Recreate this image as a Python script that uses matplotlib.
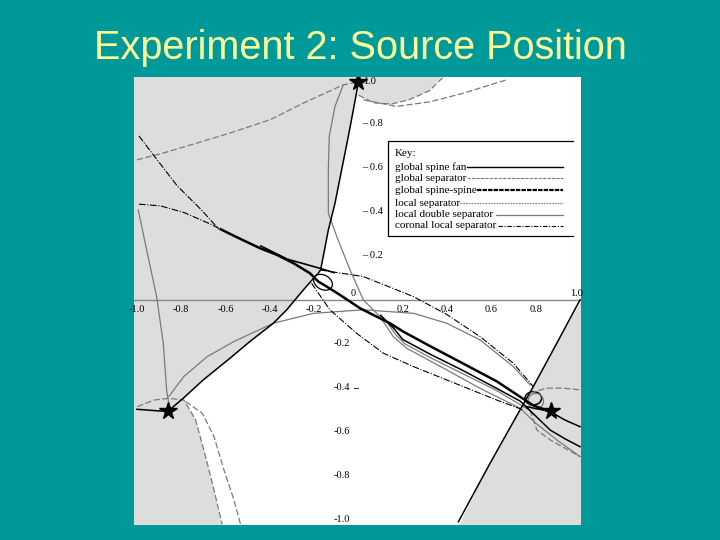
import matplotlib.pyplot as plt
from matplotlib.patches import Ellipse

# ---- data (plot units -1..1) ----
# grey shaded regions
grey_left_x = [-1.02, 0.0, 0.0, -0.023, -0.046, -0.076, -0.106, -0.136, -0.159, -0.171, -0.182,
               -0.189, -0.249, -0.324, -0.384, -0.49, -0.58, -0.701, -0.791,
               -0.788, -0.735, -0.69, -0.652, -0.615, -1.02]
grey_left_y = [1.02, 1.02, 0.99, 0.864, 0.742, 0.591, 0.439, 0.318, 0.197, 0.136, 0.121,
               0.114, 0.045, -0.045, -0.106, -0.189, -0.265, -0.364, -0.447,
               -0.455, -0.545, -0.712, -0.864, -1.03, -1.03]
grey_right_x = [1.01, 0.895, 0.789, 0.729, 0.594, 0.451, 1.01]
grey_right_y = [0.0, -0.197, -0.394, -0.5, -0.742, -1.03, -1.03]
grey_cap_x = [0.0, 0.0, 0.07, 0.15, 0.23, 0.32, 0.38]
grey_cap_y = [1.02, 0.93, 0.895, 0.89, 0.91, 0.95, 1.02]

# global spine fan (black solid)
fan_top_x = [0.0, -0.023, -0.046, -0.076, -0.106, -0.136, -0.159, -0.171, -0.182]
fan_top_y = [0.99, 0.864, 0.742, 0.591, 0.439, 0.318, 0.197, 0.136, 0.121]
fan_bl_x = [-0.189, -0.249, -0.324, -0.384, -0.49, -0.58, -0.701, -0.791, -0.859, -0.893, -1.0]
fan_bl_y = [0.114, 0.045, -0.045, -0.106, -0.189, -0.265, -0.364, -0.447, -0.505, -0.505, -0.497]
fan_br_x = [1.0, 0.895, 0.789, 0.729, 0.594, 0.451]
fan_br_y = [0.0, -0.197, -0.394, -0.5, -0.742, -1.008]
fan_star_x = [0.759, 0.865, 0.93, 1.0]
fan_star_y = [-0.485, -0.507, -0.545, -0.576]
fan_low_x = [0.1, 0.16, 0.2, 0.32, 0.47, 0.62, 0.73, 0.865, 0.93, 1.0]
fan_low_y = [-0.07, -0.13, -0.18, -0.245, -0.32, -0.4, -0.46, -0.591, -0.63, -0.667]

# global spine-spine (thick black)
ss_x = [-0.622, -0.562, -0.445, -0.369, -0.294, -0.219, -0.181, -0.144, -0.084, 0.007, 0.082,
        0.142, 0.202, 0.323, 0.474, 0.624, 0.729, 0.79, 0.865]
ss_y = [0.321, 0.291, 0.235, 0.205, 0.167, 0.121, 0.083, 0.061, 0.023, -0.038, -0.076,
        -0.106, -0.144, -0.21, -0.29, -0.37, -0.44, -0.48, -0.507]
ss2_x = [-0.441, -0.381, -0.321, -0.186, -0.111]
ss2_y = [0.245, 0.215, 0.185, 0.147, 0.124]

# global separator (grey dashed)
gsep_top_x = [-1.0, -0.881, -0.731, -0.58, -0.4, -0.249, -0.069, 0.0]
gsep_top_y = [0.636, 0.667, 0.712, 0.758, 0.818, 0.894, 0.977, 0.99]
gsep_cap_x = [0.0, 0.07, 0.15, 0.23, 0.32, 0.38]
gsep_cap_y = [0.93, 0.895, 0.89, 0.91, 0.95, 1.01]
gsep_cap2_x = [0.022, 0.172, 0.323, 0.473, 0.669]
gsep_cap2_y = [0.909, 0.879, 0.9, 0.939, 1.0]
gsep_bl1_x = [-0.998, -0.923, -0.856, -0.788, -0.735, -0.69, -0.652, -0.615]
gsep_bl1_y = [-0.485, -0.455, -0.447, -0.455, -0.545, -0.712, -0.864, -1.02]
gsep_bl2_x = [-0.78, -0.705, -0.652, -0.607, -0.562, -0.532]
gsep_bl2_y = [-0.462, -0.515, -0.621, -0.773, -0.909, -1.02]
gsep_br1_x = [0.774, 0.849, 0.924, 1.0]
gsep_br1_y = [-0.424, -0.401, -0.401, -0.409]
gsep_br2_x = [0.774, 0.805, 0.865, 1.0]
gsep_br2_y = [-0.5, -0.591, -0.636, -0.712]

# local double separator (grey solid)
lds_left_x = [-0.994, -0.956, -0.911, -0.881, -0.866, -0.854]
lds_left_y = [0.409, 0.227, 0.015, -0.197, -0.409, -0.485]
lds_mid_x = [-0.856, -0.788, -0.683, -0.562, -0.384, -0.203, 0.022, 0.248, 0.398, 0.549, 0.699, 0.774]
lds_mid_y = [-0.439, -0.348, -0.258, -0.189, -0.106, -0.061, -0.045, -0.061, -0.106, -0.182, -0.303, -0.386]
lds_top_x = [-0.069, -0.106, -0.132, -0.136, -0.136, -0.098, -0.038, 0.022, 0.097, 0.157, 0.218,
             0.398, 0.549, 0.729, 0.8, 0.9, 1.0]
lds_top_y = [0.977, 0.879, 0.742, 0.591, 0.394, 0.288, 0.136, 0.0, -0.076, -0.167, -0.22,
             -0.318, -0.402, -0.492, -0.56, -0.64, -0.712]
lds_bun_x = [0.12, 0.17, 0.21, 0.32, 0.47, 0.62, 0.72, 0.77]
lds_bun_y = [-0.09, -0.16, -0.2, -0.26, -0.335, -0.41, -0.47, -0.5]

# coronal local separator (black dash-dot)
cls_a_x = [-0.991, -0.923, -0.818, -0.712, -0.63]
cls_a_y = [0.745, 0.655, 0.518, 0.412, 0.321]
cls_b_x = [-0.991, -0.893, -0.788, -0.667, -0.622]
cls_b_y = [0.435, 0.427, 0.397, 0.344, 0.321]
cls_r_x = [-0.174, 0.022, 0.248, 0.398, 0.549, 0.699, 0.789]
cls_r_y = [0.136, 0.106, 0.015, -0.066, -0.167, -0.288, -0.394]
cls_low_x = [-0.212, -0.129, -0.008, 0.112, 0.248, 0.473, 0.624, 0.744]
cls_low_y = [0.076, -0.045, -0.152, -0.242, -0.303, -0.394, -0.455, -0.5]

# small loops (centre x, centre y)
loop_x = [-0.16, 0.789, 0.80]
loop_y = [0.08, -0.447, -0.46]

# null points (stars)
star_x = [0.0, -0.859, 0.868]
star_y = [0.99, -0.505, -0.505]

xticks = [-1.0, -0.8, -0.6, -0.4, -0.2, 0.2, 0.4, 0.6, 0.8]
xtick_labels = ["-1.0", "-0.8", "-0.6", "-0.4", "-0.2", "0.2", "0.4", "0.6", "0.8"]
ypos_ticks = [0.8, 0.6, 0.4, 0.2]
yneg_ticks = [-0.2, -0.4, -0.6, -0.8, -1.0]

key_names = ["global spine fan", "global separator", "global spine-spine",
             "local separator", "local double separator", "coronal local separator"]
key_y = [0.603, 0.552, 0.497, 0.439, 0.386, 0.336]
key_line_start = [0.49, 0.49, 0.535, 0.46, 0.62, 0.63]

# ---- figure ----
teal = "#009999"
fig = plt.figure(figsize=(7.2, 5.4), dpi=100, facecolor=teal)
fig.text(0.5, 0.912, "Experiment 2: Source Position", ha="center", va="center",
         fontsize=28.5, color="#FFFF99", family="Liberation Sans")

ax = fig.add_axes([0.186, 0.0278, 0.621, 0.83])
ax.set_facecolor("white")
ax.set_xlim(-1.0135, 1.0045)
ax.set_ylim(-1.0227, 1.0136)
ax.set_xticks([])
ax.set_yticks([])
for s in ax.spines.values():
    s.set_visible(False)

shade = "#DDDDDD"
ax.fill(grey_left_x, grey_left_y, color=shade, lw=0)
ax.fill(grey_right_x, grey_right_y, color=shade, lw=0)
ax.fill(grey_cap_x, grey_cap_y, color=shade, lw=0)

grey = "#7A7A7A"
# x axis
ax.plot([-1.02, 1.0], [0, 0], color="#888888", lw=1.0)

# global separator
for xs, ys in [(gsep_top_x, gsep_top_y), (gsep_cap_x, gsep_cap_y), (gsep_cap2_x, gsep_cap2_y),
               (gsep_bl1_x, gsep_bl1_y), (gsep_bl2_x, gsep_bl2_y),
               (gsep_br1_x, gsep_br1_y), (gsep_br2_x, gsep_br2_y)]:
    ax.plot(xs, ys, color=grey, lw=0.9, ls=(0, (5, 2)))
# local double separator
for xs, ys in [(lds_left_x, lds_left_y), (lds_mid_x, lds_mid_y),
               (lds_top_x, lds_top_y), (lds_bun_x, lds_bun_y)]:
    ax.plot(xs, ys, color=grey, lw=0.9)
# coronal local separator
for xs, ys in [(cls_a_x, cls_a_y), (cls_b_x, cls_b_y), (cls_r_x, cls_r_y), (cls_low_x, cls_low_y)]:
    ax.plot(xs, ys, color="black", lw=0.8, ls=(0, (6, 1.5, 1, 1.5)))
# global spine fan
for xs, ys in [(fan_top_x, fan_top_y), (fan_bl_x, fan_bl_y), (fan_br_x, fan_br_y),
               (fan_star_x, fan_star_y), (fan_low_x, fan_low_y)]:
    ax.plot(xs, ys, color="black", lw=1.1)
# global spine-spine
ax.plot(ss_x, ss_y, color="black", lw=1.8)
ax.plot(ss2_x, ss2_y, color="black", lw=1.2)

ax.add_patch(Ellipse((loop_x[0], loop_y[0]), 0.09, 0.065, angle=-30, fill=False, ec="black", lw=0.9))
ax.add_patch(Ellipse((loop_x[1], loop_y[1]), 0.075, 0.06, angle=0, fill=False, ec="black", lw=1.1))
ax.add_patch(Ellipse((loop_x[2], loop_y[2]), 0.07, 0.07, angle=0, fill=False, ec=grey, lw=0.9))

ax.plot(star_x, star_y, ls="none", marker="*", ms=13, color="black")

# tick labels
tfont = dict(family="Liberation Serif", fontsize=7.5, color="black")
for xv, lab in zip(xticks, xtick_labels):
    ax.text(xv, -0.042, lab, ha="center", va="center", **tfont)
ax.text(-0.023, 0.03, "0", ha="center", va="center", **tfont)
ax.text(0.985, 0.03, "1.0", ha="center", va="center", **tfont)
ax.text(0.02, 0.99, "1.0", ha="left", va="center", **tfont)
for yv in ypos_ticks:
    ax.text(0.015, yv, "\u2013 %.1f" % yv, ha="left", va="center", **tfont)
for yv in yneg_ticks:
    ax.text(-0.04, yv, "%.1f" % yv, ha="right", va="center", **tfont)
    if yv == -0.4:
        ax.plot([-0.02, 0.0], [yv, yv], color="black", lw=0.6)

# key box
ax.plot([0.969, 0.135, 0.135, 0.969], [0.72, 0.72, 0.288, 0.288], color="black", lw=0.9)
kfont = dict(family="Liberation Serif", fontsize=8, color="black")
ax.text(0.165, 0.667, "Key:", ha="left", va="center", **kfont)
key_styles = [dict(color="black", lw=1.0),
              dict(color=grey, lw=0.8, ls=(0, (3, 1))),
              dict(color="black", lw=1.6, ls=(0, (2, 0.5))),
              dict(color=grey, lw=0.8, ls=(0, (1.5, 1))),
              dict(color=grey, lw=0.9),
              dict(color="black", lw=0.8, ls=(0, (4, 1.5, 1, 1.5)))]
for name, yv, x0, st in zip(key_names, key_y, key_line_start, key_styles):
    ax.text(0.165, yv, name, ha="left", va="center", **kfont)
    ax.plot([x0, 0.925], [yv, yv], **st)

fig.savefig("out.png", dpi=100, facecolor=teal)
